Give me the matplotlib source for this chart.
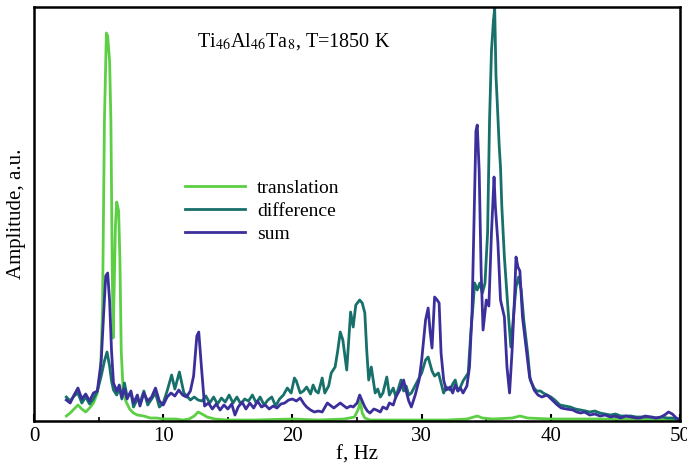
import matplotlib.pyplot as plt

plt.rcParams['font.family'] = 'Liberation Serif'
plt.rcParams['mathtext.fontset'] = 'stix'

# translation spectrum (f in Hz, amplitude in a.u.)
f_trans = [2.5, 2.8, 3.1, 3.4, 3.7, 4.0, 4.3, 4.6, 4.9, 5.15, 5.3, 5.45, 5.6, 5.7, 5.85,
           5.95, 6.05, 6.12, 6.2, 6.3, 6.4, 6.55, 6.65, 6.75, 6.9, 7.1, 7.4, 7.7, 8.0, 8.5,
           9.0, 9.5, 10.0, 11.0, 11.5, 12.0, 12.4, 12.7, 13.0, 13.4, 14.0, 15.0, 17.0, 20.0,
           22.0, 24.0, 24.8, 25.1, 25.25, 25.4, 25.6, 26.0, 28.0, 30.0, 32.0, 33.5, 34.3,
           34.7, 35.5, 37.0, 37.6, 38.2, 40.0, 45.0, 50.0]
a_trans = [5, 8, 12, 16, 12, 9, 13, 18, 28, 50, 110, 300, 388, 385, 360,
           300, 160, 83, 130, 195, 219, 210, 160, 70, 30, 20, 12, 8, 6, 5,
           3, 3, 2, 2, 1, 2, 5, 9, 7, 4, 2, 1, 1, 2,
           1, 2, 4, 12, 20, 8, 3, 1, 1, 1, 1, 2, 5,
           3, 2, 3, 5, 3, 2, 2, 1]

# difference spectrum
f_diff = [2.5, 2.8, 3.1, 3.4, 3.7, 4.0, 4.3, 4.6, 4.9, 5.2, 5.45, 5.65, 5.85, 6.0, 6.15,
          6.4, 6.6, 6.8, 7.0, 7.2, 7.5, 7.7, 8.0, 8.2, 8.5, 8.8, 9.1, 9.4, 9.7, 10.0,
          10.3, 10.65, 10.9, 11.25, 11.4, 11.6, 11.9, 12.1, 12.4, 12.7, 13.0, 13.3, 13.6,
          13.9, 14.2, 14.5, 14.8, 15.1, 15.4, 15.7, 16.0, 16.3, 16.6, 16.9, 17.2, 17.5,
          17.8, 18.1, 18.4, 18.7, 19.0, 19.3, 19.6, 19.9, 20.15, 20.3, 20.6, 20.85, 21.1,
          21.4, 21.6, 21.8, 22.0, 22.3, 22.5, 22.8, 23.0, 23.3, 23.5, 23.7, 23.9, 24.2,
          24.5, 24.7, 24.9, 25.2, 25.4, 25.6, 25.75, 25.9, 26.1, 26.4, 26.6, 26.8, 27.0,
          27.3, 27.5, 27.8, 28.0, 28.4, 28.6, 28.8, 29.0, 29.2, 29.6, 30.0, 30.3, 30.5,
          30.8, 31.0, 31.3, 31.7, 31.9, 32.2, 32.4, 32.6, 32.8, 33.0, 33.2, 33.6, 33.8,
          34.0, 34.1, 34.3, 34.5, 34.7, 34.9, 35.1, 35.25, 35.4, 35.55, 35.65, 35.75, 35.85,
          36.0, 36.1, 36.2, 36.4, 36.7, 36.9, 37.1, 37.3, 37.5, 37.7, 37.9, 38.2, 38.4,
          38.7, 38.9, 39.2, 39.4, 39.7, 40.0, 40.3, 40.7, 41.1, 41.5, 41.9, 42.3, 42.7,
          43.0, 43.4, 43.8, 44.2, 44.6, 45.0, 45.4, 45.8, 46.2, 46.6, 47.0, 47.4, 47.8,
          48.2, 48.6, 49.0, 49.4, 49.8, 50.0]
a_diff = [24, 20, 25, 28, 18, 24, 17, 22, 30, 45, 60, 69, 55, 40, 31,
          26, 33, 22, 38, 25, 28, 14, 22, 18, 30, 16, 22, 28, 14, 18,
          30, 46, 32, 49, 40, 28, 24, 21, 24, 21, 20, 25, 18,
          24, 17, 23, 19, 26, 18, 24, 17, 22, 20, 26, 18, 24,
          16, 21, 24, 15, 22, 26, 33, 28, 43, 40, 28, 30, 34,
          27, 36, 30, 28, 43, 28, 35, 48, 54, 70, 89, 81, 51,
          109, 94, 116, 121, 118, 108, 70, 41, 54, 28, 32, 24, 28,
          44, 26, 33, 24, 41, 30, 35, 26, 28, 38, 48, 61, 64,
          50, 45, 48, 28, 34, 31, 37, 41, 30, 34, 40, 48, 88,
          120, 138, 131, 138, 128, 138, 188, 300, 370, 400, 413, 345, 318,
          275, 254, 215, 164, 108, 74, 104, 134, 144, 131, 101, 68, 41,
          33, 30, 30, 28, 26, 24, 21, 16, 15, 14, 12, 11, 10,
          9, 10, 8, 7, 6, 7, 5, 5, 5, 4, 4, 4, 4,
          3, 4, 3, 3, 2, 2]

# sum spectrum
f_sum = [2.5, 2.8, 3.1, 3.4, 3.7, 4.0, 4.3, 4.6, 4.9, 5.2, 5.4, 5.55, 5.7, 5.85, 6.0,
         6.15, 6.4, 6.6, 6.8, 7.0, 7.2, 7.5, 7.7, 8.0, 8.2, 8.5, 8.8, 9.1, 9.4, 9.7,
         10.0, 10.3, 10.6, 10.9, 11.2, 11.5, 11.8, 12.1, 12.35, 12.6, 12.75, 12.95, 13.2,
         13.5, 13.8, 14.1, 14.4, 14.7, 15.0, 15.3, 15.55, 15.8, 16.1, 16.4, 16.7, 17.0,
         17.3, 17.6, 17.9, 18.2, 18.5, 18.8, 19.1, 19.4, 19.7, 20.0, 20.3, 20.6, 20.9,
         21.1, 21.4, 21.7, 22.0, 22.3, 22.7, 23.0, 23.2, 23.5, 23.7, 24.0, 24.2, 24.5,
         24.7, 25.0, 25.2, 25.4, 25.6, 25.8, 26.0, 26.3, 26.5, 26.8, 27.0, 27.3, 27.5,
         27.8, 28.0, 28.3, 28.6, 28.8, 29.0, 29.2, 29.5, 29.8, 30.0, 30.3, 30.5, 30.65,
         30.8, 31.0, 31.2, 31.35, 31.5, 31.7, 31.9, 32.2, 32.4, 32.6, 32.8, 33.0, 33.2,
         33.5, 33.7, 33.9, 34.05, 34.2, 34.3, 34.45, 34.6, 34.75, 35.0, 35.2, 35.4, 35.6,
         35.7, 35.9, 36.1, 36.4, 36.6, 36.8, 37.0, 37.2, 37.3, 37.45, 37.6, 37.8, 38.1,
         38.35, 38.7, 39.0, 39.3, 39.7, 40.1, 40.5, 40.8, 41.2, 41.7, 42.0, 42.3, 42.6,
         43.0, 43.4, 43.8, 44.2, 44.6, 45.0, 45.4, 45.8, 46.2, 46.6, 46.9, 47.3, 47.7,
         48.1, 48.5, 48.8, 49.1, 49.4, 49.7, 50.0]
a_sum = [21, 18, 26, 33, 22, 27, 20, 28, 30, 60, 110, 145, 148, 120, 70,
         38, 30, 36, 24, 32, 22, 30, 18, 26, 15, 28, 20, 24, 33, 20,
         16, 24, 28, 25, 31, 26, 24, 30, 45, 85, 89, 55, 15,
         18, 12, 17, 11, 16, 12, 17, 6, 14, 19, 12, 18, 13,
         20, 14, 16, 12, 15, 13, 17, 18, 21, 22, 20, 23, 17,
         14, 11, 9, 10, 9, 18, 15, 13, 16, 18, 15, 13, 15,
         14, 18, 26, 20, 14, 10, 8, 12, 11, 9, 14, 12, 18,
         16, 24, 31, 41, 30, 20, 14, 26, 41, 61, 101, 113, 90,
         73, 124, 121, 118, 68, 41, 31, 34, 28, 36, 30, 33, 28,
         35, 54, 110, 200, 290, 296, 250, 150, 91, 121, 115, 188, 244,
         215, 178, 121, 104, 54, 28, 71, 128, 164, 154, 150, 104, 71,
         44, 31, 26, 24, 26, 21, 16, 13, 12, 11, 9, 8, 9,
         6, 7, 5, 6, 4, 5, 3, 5, 4, 3, 3, 5, 4,
         3, 4, 6, 9, 7, 3, 1]

fig = plt.figure(figsize=(6.87, 4.68), dpi=100)
ax = fig.add_axes([0.0495, 0.1004, 0.9405, 0.8846])

ax.plot(f_trans, a_trans, color='#5ccf45', lw=2.0, label='translation')
ax.plot(f_diff, a_diff, color='#17706a', lw=2.0, label='difference')
ax.plot(f_sum, a_sum, color='#3b2f9c', lw=2.0, label='sum')

ax.set_xlim(0, 50)
ax.set_ylim(0, 414)
ax.set_xticks([0, 10, 20, 30, 40, 50])
ax.set_xticks([5, 15, 25, 35, 45], minor=True)
ax.set_yticks([])
ax.tick_params(axis='x', direction='in', length=5, width=1.5, labelsize=15, pad=4)
ax.tick_params(axis='x', which='minor', direction='in', length=3, width=1.2)
for s in ax.spines.values():
    s.set_linewidth(1.8)

ax.set_xlabel('f, Hz', fontsize=15, labelpad=0)
ax.set_ylabel('Amplitude, a.u.', fontsize=15, labelpad=6)

ax.text(20.1, 379, r'Ti$_{46}$Al$_{46}$Ta$_{8}$, T=1850 K', fontsize=14.5,
        ha='center', va='center')

ax.legend(loc='upper left', bbox_to_anchor=(0.234, 0.584), frameon=False,
          fontsize=14, handlelength=3.1, handletextpad=0.6, labelspacing=0.28,
          borderpad=0, borderaxespad=0)

fig.savefig('out.png', dpi=100)
